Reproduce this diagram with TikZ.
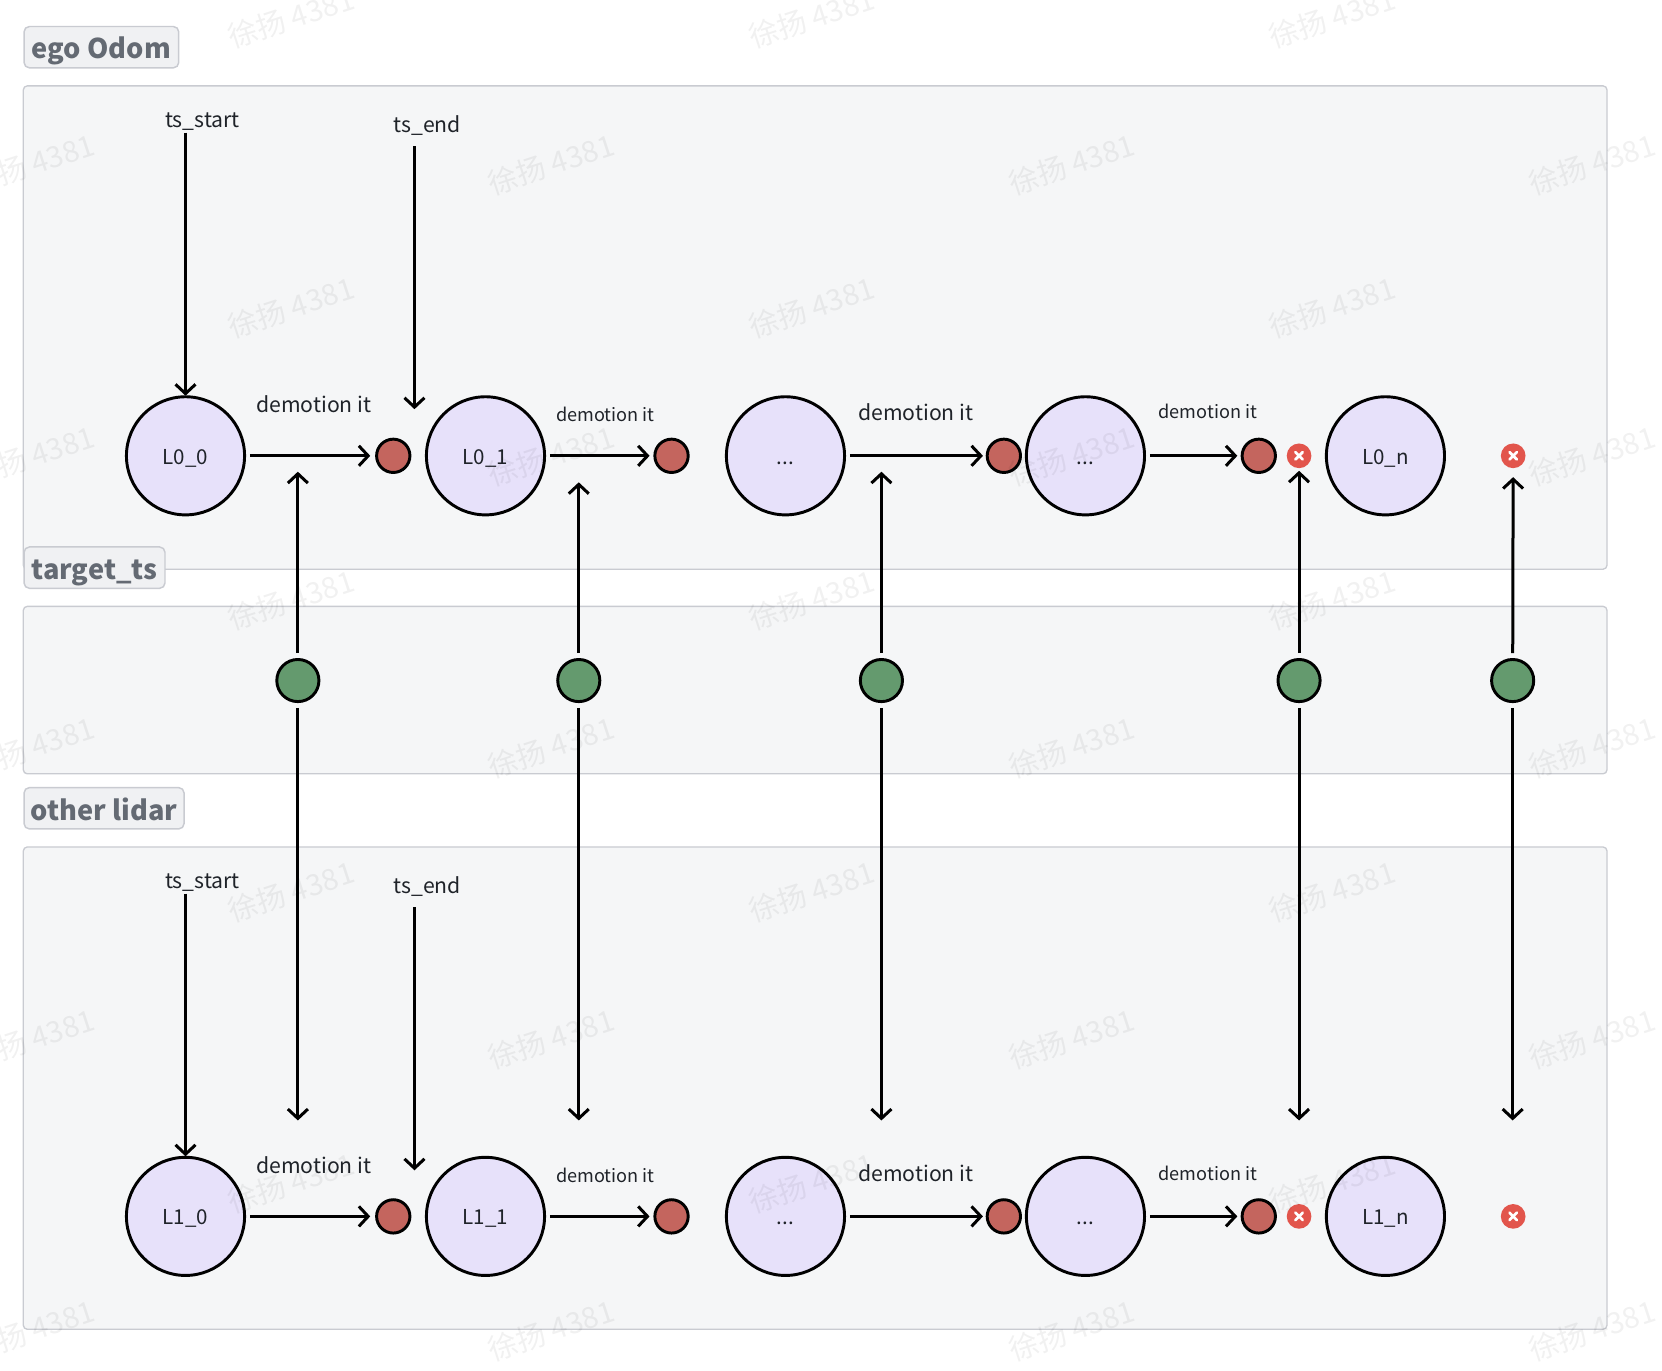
\documentclass[tikz,border=0pt]{standalone}
\usepackage{fontspec}
\setmainfont{Noto Sans CJK SC}
\usetikzlibrary{arrows.meta,calc}
\definecolor{panelfill}{HTML}{F5F6F7}
\definecolor{panelline}{HTML}{C9CBD1}
\definecolor{tagfill}{HTML}{F0F1F3}
\definecolor{tagtext}{HTML}{646A73}
\definecolor{bigfill}{HTML}{E7E1FA}
\definecolor{redfill}{HTML}{C4655E}
\definecolor{greenfill}{HTML}{649A6E}
\definecolor{closefill}{HTML}{E2554C}
\definecolor{inktext}{HTML}{1F2329}
\tikzset{
  x=0.795pt,y=-0.795pt,
  panel/.style={draw=panelline,fill=panelfill,line width=1pt,rounded corners=3pt},
  tagbox/.style={draw=panelline,fill=tagfill,line width=1.1pt,rounded corners=4pt,anchor=west,inner sep=0pt,minimum height=31pt,font=\fontsize{20.4}{20.4}\selectfont\bfseries,text=tagtext,align=center,text height=17.6pt,text depth=0pt},
  bignode/.style={circle,draw=black,line width=2.2pt,fill=bigfill,minimum size=88.6pt,inner sep=0pt,outer sep=0pt,font=\fontsize{15.4}{15.4}\selectfont,text=inktext,text height=12.8pt,text depth=0pt},
  reddot/.style={circle,draw=black,line width=2.2pt,fill=redfill,minimum size=25pt,inner sep=0pt,outer sep=0pt},
  greendot/.style={circle,draw=black,line width=2.2pt,fill=greenfill,minimum size=31.6pt,inner sep=0pt,outer sep=0pt},
  closeicon/.style={circle,fill=closefill,minimum size=18.5pt,inner sep=0pt,outer sep=0pt,
    path picture={\draw[white,line width=2pt,line cap=round]
      ($(path picture bounding box.center)+(-2.8pt,-2.8pt)$)--($(path picture bounding box.center)+(2.8pt,2.8pt)$)
      ($(path picture bounding box.center)+(-2.8pt,2.8pt)$)--($(path picture bounding box.center)+(2.8pt,-2.8pt)$);}},
  biglabel/.style={font=\fontsize{15.9}{15.9}\selectfont,text=inktext,inner sep=1pt},
  smalllabel/.style={font=\fontsize{13.6}{13.6}\selectfont,text=inktext,inner sep=1pt},
  conn/.style={draw=black,line width=2.25pt,-{Straight Barb[length=7pt,width=15pt,line width=2.25pt]}},
  wmark/.style={font=\fontsize{22}{22}\selectfont,text=black,text opacity=0.055,rotate=18,inner sep=0pt},
}
\def\uu{0.795pt}
\begin{document}
\begin{tikzpicture}
\useasboundingbox (0,0) rectangle (1567.9,1292.45);
\clip (0,0) rectangle (1567.9,1292.45);
% panels
\draw[panel] (22,81) rectangle (1516,537);
\draw[panel] (22,572) rectangle (1516,730);
\draw[panel] (22,799) rectangle (1516,1254);
% tags
\node[tagbox,minimum width=116pt] (tagA) at (22,44.5) {ego Odom};
\node[tagbox,minimum width=105.7pt] (tagB) at (22,535.5) {target\_ts};
\node[tagbox,minimum width=120pt] (tagC) at (22,762.5) {other lidar};
% top row
\node[bignode] (a0) at (175,430) {L0\_0};
\node[bignode] (a1) at (458,430) {L0\_1};
\node[bignode] (a2) at (741,430) {...};
\node[bignode] (a3) at (1024,430) {...};
\node[bignode] (a4) at (1307,430) {L0\_n};
\node[reddot] (ar0) at (371,430) {};
\node[reddot] (ar1) at (633.5,430) {};
\node[reddot] (ar2) at (947,430) {};
\node[reddot] (ar3) at (1187.5,430) {};
\node[closeicon] (ax0) at (1225.5,430) {};
\node[closeicon] (ax1) at (1427.5,430) {};
% bottom row
\node[bignode] (b0) at (175,1147.5) {L1\_0};
\node[bignode] (b1) at (458,1147.5) {L1\_1};
\node[bignode] (b2) at (741,1147.5) {...};
\node[bignode] (b3) at (1024,1147.5) {...};
\node[bignode] (b4) at (1307,1147.5) {L1\_n};
\node[reddot] (br0) at (371,1147.5) {};
\node[reddot] (br1) at (633.5,1147.5) {};
\node[reddot] (br2) at (947,1147.5) {};
\node[reddot] (br3) at (1187.5,1147.5) {};
\node[closeicon] (bx0) at (1225.5,1147.5) {};
\node[closeicon] (bx1) at (1427.5,1147.5) {};
% green
\node[greendot] (g0) at (281,642) {};
\node[greendot] (g1) at (546,642) {};
\node[greendot] (g2) at (831.5,642) {};
\node[greendot] (g3) at (1225.5,642) {};
\node[greendot] (g4) at (1427,642) {};
% labels
\node[biglabel] (tsA) at (191,114.5) {ts\_start};
\node[biglabel] (teA) at (403,118) {ts\_end};
\node[biglabel] (tsB) at (191,832.5) {ts\_start};
\node[biglabel] (teB) at (403,836) {ts\_end};
\node[biglabel] (la0) at (296,381.5) {demotion it};
\node[smalllabel] (la1) at (571,390.5) {demotion it};
\node[biglabel] (la2) at (864,388.5) {demotion it};
\node[smalllabel] (la3) at (1139.5,388.5) {demotion it};
\node[biglabel] (lb0) at (296,1099.5) {demotion it};
\node[smalllabel] (lb1) at (571,1108.5) {demotion it};
\node[biglabel] (lb2) at (864,1106.5) {demotion it};
\node[smalllabel] (lb3) at (1139.5,1106.5) {demotion it};
% free ends
\coordinate (teAend) at (391,386);
\coordinate (teBend) at (391,1104);
\coordinate (teAstart) at (391,138);
\coordinate (teBstart) at (391,856);
\coordinate (tsAstart) at (175,125);
\coordinate (tsBstart) at (175,843);
\coordinate (up0) at (281,445);
\coordinate (up1) at (546,455);
\coordinate (up2) at (831.5,445);
\coordinate (dn0) at (281,1057);
\coordinate (dn1) at (546,1057);
\coordinate (dn2) at (831.5,1057);
\coordinate (dn3) at (1225.5,1057);
\coordinate (dn4) at (1427,1057);
% horizontal connectors
\foreach \r in {a,b}{
  \draw[conn,shorten <=5*\uu,shorten >=6*\uu] (\r0) -- (\r r0);
  \draw[conn,shorten <=5*\uu,shorten >=5*\uu] (\r1) -- (\r r1);
  \draw[conn,shorten <=5*\uu,shorten >=4*\uu] (\r2) -- (\r r2);
  \draw[conn,shorten <=5*\uu,shorten >=4.5*\uu] (\r3) -- (\r r3);
}
% ts connectors
\draw[conn,shorten >=1*\uu] (tsAstart) -- (a0);
\draw[conn,shorten >=1*\uu] (tsBstart) -- (b0);
\draw[conn] (teAstart) -- (teAend);
\draw[conn] (teBstart) -- (teBend);
% vertical up connectors
\draw[conn,shorten <=6*\uu] (g0) -- (up0);
\draw[conn,shorten <=6*\uu] (g1) -- (up1);
\draw[conn,shorten <=6*\uu] (g2) -- (up2);
\draw[conn,shorten <=6*\uu,shorten >=2.5*\uu] (g3) -- (ax0);
\draw[conn,shorten <=6*\uu,shorten >=8.5*\uu] (g4) -- (ax1);
% vertical down connectors
\draw[conn,shorten <=6*\uu] (g0) -- (dn0);
\draw[conn,shorten <=6*\uu] (g1) -- (dn1);
\draw[conn,shorten <=6*\uu] (g2) -- (dn2);
\draw[conn,shorten <=6*\uu] (g3) -- (dn3);
\draw[conn,shorten <=6*\uu] (g4) -- (dn4);
% watermarks
\foreach \px in {275,766,1257}{
  \foreach \py in {17,290,566,841,1116}{
    \node[wmark] at (\px,\py) {徐扬 4381};
  }
}
\foreach \px in {30,520,1011,1502}{
  \foreach \py in {155,430,705,980,1255}{
    \node[wmark] at (\px,\py) {徐扬 4381};
  }
}
\end{tikzpicture}
\end{document}
